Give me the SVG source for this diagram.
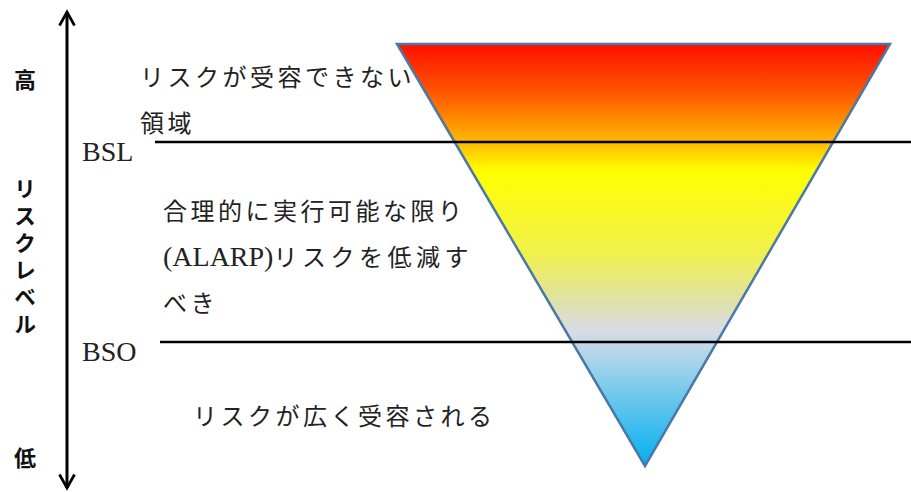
<svg xmlns="http://www.w3.org/2000/svg" width="911" height="492" viewBox="0 0 911 492">
<defs>
<linearGradient id="g" x1="0" y1="44" x2="0" y2="466" gradientUnits="userSpaceOnUse">
<stop offset="0" stop-color="#ff0f00"/>
<stop offset="0.12" stop-color="#ff5a00"/>
<stop offset="0.24" stop-color="#ffc000"/>
<stop offset="0.3" stop-color="#ffff00"/>
<stop offset="0.5" stop-color="#f0f050"/>
<stop offset="0.62" stop-color="#dde0b0"/>
<stop offset="0.68" stop-color="#d8dce6"/>
<stop offset="0.75" stop-color="#a8d4ea"/>
<stop offset="1" stop-color="#00b0f0"/>
</linearGradient>
<marker id="ah" viewBox="0 0 12 12" refX="10" refY="6" markerWidth="6" markerHeight="6" orient="auto-start-reverse" markerUnits="strokeWidth">
<path d="M1,1 L10,6 L1,11" fill="none" stroke="#000" stroke-width="1.8"/>
</marker>
<style>
.t{font-family:"Liberation Serif","Noto Sans CJK JP",serif;font-size:24px;fill:#222;letter-spacing:3.5px}
.l{font-size:28px;letter-spacing:0}
.b{font-family:"Noto Sans CJK JP",sans-serif;font-size:22px;font-weight:bold;fill:#111;text-anchor:middle}
.ln{stroke:#000;stroke-width:2.5}
</style>
</defs>
<g id="triangle">
<polygon points="397,44 890,44 645,466" fill="url(#g)" stroke="#4a78a8" stroke-width="2.5" stroke-linejoin="miter"/>
</g>
<g id="connectors">
<line class="ln" x1="155" y1="142" x2="911" y2="142"/>
<line class="ln" x1="160" y1="342" x2="911" y2="342"/>
<line x1="67" y1="12" x2="67" y2="488" stroke="#000" stroke-width="3" marker-start="url(#ah)" marker-end="url(#ah)"/>
</g>
<g id="axis-labels">
<text class="b" x="25" y="88">高</text>
<text class="b" x="25" y="178" style="writing-mode:vertical-rl;letter-spacing:5px;text-anchor:start">リスクレベル</text>
<text class="b" x="25" y="466">低</text>
</g>
<g id="bsl"><text class="t l" x="82" y="161">BSL</text></g>
<g id="bso"><text class="t l" x="82" y="361">BSO</text></g>
<g id="zone-high">
<text class="t" x="140" y="86">リスクが受容できない</text>
<text class="t" x="140" y="132">領域</text>
</g>
<g id="zone-alarp">
<text class="t" x="163" y="220">合理的に実行可能な限り</text>
<text class="t" x="163" y="266"><tspan class="l">(ALARP)</tspan><tspan style="letter-spacing:4.5px">リスクを低減す</tspan></text>
<text class="t" x="163" y="312">べき</text>
</g>
<g id="zone-low">
<text class="t" x="193" y="425">リスクが広く受容される</text>
</g>
</svg>
